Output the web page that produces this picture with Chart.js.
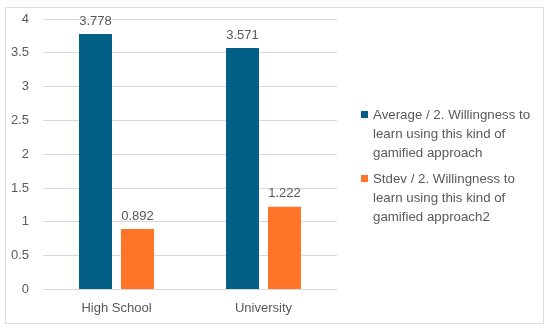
<!DOCTYPE html>
<html>
<head>
<meta charset="utf-8">
<script src="https://cdn.jsdelivr.net/npm/chart.js@4.4.0/dist/chart.umd.min.js"></script>
<style>
  body { margin: 0; background: #fff; font-family: "Liberation Sans", Arial, sans-serif; }
  #frame { position: absolute; left: 5px; top: 7px; width: 537px; height: 315px; border: 1px solid #dcdcdc; }
  #chart { position: absolute; left: 0; top: 0; }
  #legend { position: absolute; left: 355px; top: 96.5px; color: #595959; font-size: 13.3px; line-height: 19px; }
  .item { position: relative; padding-left: 12px; margin-bottom: 7px; }
  .item .box { position: absolute; left: 0; top: 6px; width: 7px; height: 7px; }
</style>
</head>
<body>
<div id="frame">
  <canvas id="chart" width="537" height="315"></canvas>
  <div id="legend"></div>
</div>
<script>
// categories and series
const categories = ['High School', 'University'];
const averageValues = [3.778, 3.571];
const stdevValues = [0.892, 1.222];
const seriesNames = [
  ['Average / 2. Willingness to', 'learn using this kind of', 'gamified approach'],
  ['Stdev / 2. Willingness to', 'learn using this kind of', 'gamified approach2']
];
const seriesColors = ['#035f86', '#ff7427'];
const yTickValues = [0, 0.5, 1, 1.5, 2, 2.5, 3, 3.5, 4];

const textColor = '#595959';
const font = { family: '"Liberation Sans", Arial, sans-serif', size: 13 };

// valori sopra le barre
const valueLabels = {
  id: 'valueLabels',
  afterDatasetsDraw(chart) {
    const ctx = chart.ctx;
    ctx.save();
    ctx.font = '13px "Liberation Sans", Arial, sans-serif';
    ctx.fillStyle = textColor;
    ctx.textAlign = 'center';
    ctx.textBaseline = 'middle';
    chart.data.datasets.forEach((ds, i) => {
      chart.getDatasetMeta(i).data.forEach((bar, j) => {
        ctx.fillText(ds.data[j].toFixed(3), bar.x, bar.y - 13);
      });
    });
    ctx.restore();
  }
};

const chart = new Chart(document.getElementById('chart'), {
  type: 'bar',
  data: {
    labels: categories,
    datasets: [
      { label: seriesNames[0].join(' '), data: averageValues, backgroundColor: seriesColors[0] },
      { label: seriesNames[1].join(' '), data: stdevValues, backgroundColor: seriesColors[1] }
    ]
  },
  options: {
    responsive: false,
    animation: false,
    categoryPercentage: 0.571,
    barPercentage: 0.786,
    layout: { padding: { left: 5, right: 206, top: 0, bottom: -4 } },
    scales: {
      x: {
        grid: { display: false, drawTicks: false },
        border: { display: false },
        ticks: { color: textColor, font: font, padding: 11 }
      },
      y: {
        min: 0,
        max: 4,
        afterBuildTicks: (s) => { s.ticks = yTickValues.map(v => ({ value: v })); },
        afterFit: (s) => { s.paddingTop = 11; s.width = 32; },
        grid: { color: '#d9d9d9', drawTicks: false },
        border: { display: false },
        ticks: { color: textColor, font: font, padding: 14, callback: (v) => String(v) }
      }
    },
    plugins: {
      legend: { display: false },
      tooltip: { enabled: false }
    }
  },
  plugins: [valueLabels]
});

// legenda HTML a destra
document.getElementById('legend').innerHTML = chart.data.datasets.map((ds, i) => `
  <div class="item"><span class="box" style="background:${ds.backgroundColor}"></span>${seriesNames[i].join('<br>')}</div>
`).join('');
</script>
</body>
</html>
